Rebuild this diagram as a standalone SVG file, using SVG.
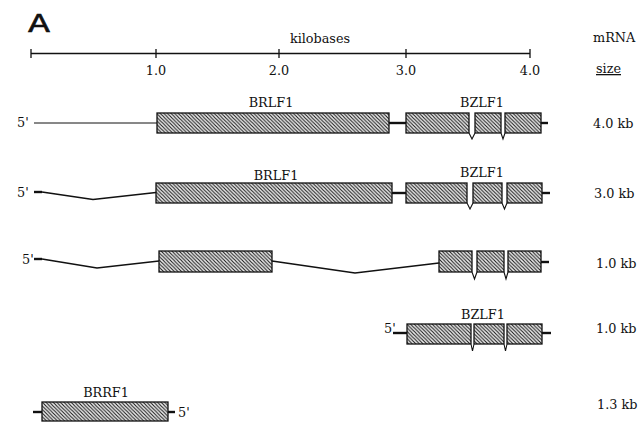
<svg xmlns="http://www.w3.org/2000/svg" width="639" height="423" viewBox="0 0 639 423">
<defs>
<pattern id="hatch" patternUnits="userSpaceOnUse" width="3.6" height="3.6">
<rect width="3.6" height="3.6" fill="#eeeeee"/>
<path d="M-1,-1 L4.6,4.6 M-1,2.6 L1,4.6 M2.6,-1 L4.6,1" stroke="#1a1a1a" stroke-width="1.1"/>
</pattern>
</defs>
<style>
text{font-family:"DejaVu Serif","Liberation Serif",serif;font-size:12.8px;fill:#111}
.ex{fill:url(#hatch);stroke:#111;stroke-width:1.3}
.thin{stroke:#111;stroke-width:1;fill:none}
.intr{stroke:#111;stroke-width:1.6;fill:none}
.thick{stroke:#111;stroke-width:2.4;fill:none}
.notch{stroke:#111;stroke-width:1.1;fill:#fff}
.mid{text-anchor:middle}
</style>
<rect width="639" height="423" fill="#fff"/>
<g id="title">
<text x="28" y="32" style="font-family:'DejaVu Sans','Liberation Sans',sans-serif;font-size:24px;stroke:#111;stroke-width:0.6" textLength="22" lengthAdjust="spacingAndGlyphs">A</text>
</g>
<g id="axis">
<line x1="31" y1="53.5" x2="530" y2="53.5" stroke="#111" stroke-width="1.5"/>
<path d="M31,49V58 M156,49V58 M279,49V58 M406,49V58 M530,49V58" stroke="#111" stroke-width="1.3"/>
<text x="320" y="43" class="mid">kilobases</text>
<text x="156" y="75" class="mid">1.0</text>
<text x="279" y="75" class="mid">2.0</text>
<text x="406" y="75" class="mid">3.0</text>
<text x="530" y="75" class="mid">4.0</text>
<text x="593" y="42">mRNA</text>
<text x="596" y="73" text-decoration="underline">size</text>
</g>
<g id="connectors">
<line class="thin" x1="34" y1="123" x2="157" y2="123"/>
<line class="thick" x1="389" y1="123" x2="406" y2="123"/>
<line class="thick" x1="541" y1="123" x2="548" y2="123"/>
<line class="thick" x1="34" y1="192" x2="42" y2="192"/>
<polyline class="intr" points="42,192 93,199.5 156,192.5"/>
<line class="thick" x1="392" y1="193" x2="406" y2="193"/>
<line class="thick" x1="542" y1="193" x2="550" y2="193"/>
<line class="thick" x1="34" y1="259" x2="42" y2="259"/>
<polyline class="intr" points="42,259 97,268 159,261"/>
<polyline class="intr" points="272,261 355,273 439,263"/>
<line class="thick" x1="541" y1="262" x2="549" y2="262"/>
<line class="thick" x1="393" y1="333" x2="407" y2="333"/>
<line class="thick" x1="542" y1="333" x2="551" y2="333"/>
<line class="thick" x1="33" y1="412" x2="42" y2="412"/>
<line class="thick" x1="168" y1="412" x2="175" y2="412"/>
</g>
<g id="row1">
<text x="17" y="127">5'</text>
<rect class="ex" x="157" y="113" width="232" height="20"/>
<text x="271" y="107" class="mid">BRLF1</text>
<rect class="ex" x="406" y="113" width="63" height="20"/>
<rect class="ex" x="475" y="113" width="26" height="20"/>
<rect class="ex" x="505" y="113" width="36" height="20"/>
<path class="notch" d="M469,133 L472,139 L475,133 M501,133 L503,139 L505,133"/>
<text x="482" y="107" class="mid">BZLF1</text>
<text x="593" y="128">4.0 kb</text>
</g>
<g id="row2">
<text x="17" y="197">5'</text>
<rect class="ex" x="156" y="183" width="236" height="20"/>
<text x="276" y="180" class="mid">BRLF1</text>
<rect class="ex" x="406" y="183" width="61" height="20"/>
<rect class="ex" x="473" y="183" width="29" height="20"/>
<rect class="ex" x="507" y="183" width="35" height="20"/>
<path class="notch" d="M467,203 L470,209 L473,203 M502,203 L504.5,209 L507,203"/>
<text x="482" y="177" class="mid">BZLF1</text>
<text x="594" y="198">3.0 kb</text>
</g>
<g id="row3">
<text x="22" y="264">5'</text>
<rect class="ex" x="159" y="251" width="113" height="21"/>
<rect class="ex" x="439" y="251" width="33" height="21"/>
<rect class="ex" x="477" y="251" width="27" height="21"/>
<rect class="ex" x="508" y="251" width="33" height="21"/>
<path class="notch" d="M472,272 L474.5,279 L477,272 M504,272 L506,279 L508,272"/>
<text x="596" y="268">1.0 kb</text>
</g>
<g id="row4">
<text x="384" y="333">5'</text>
<rect class="ex" x="407" y="324" width="64" height="20"/>
<rect class="ex" x="474" y="324" width="30" height="20"/>
<rect class="ex" x="507" y="324" width="35" height="20"/>
<path class="notch" d="M471,344 L472.5,351 L474,344 M504,344 L505.5,351 L507,344"/>
<text x="483" y="319" class="mid">BZLF1</text>
<text x="596" y="333">1.0 kb</text>
</g>
<g id="row5">
<rect class="ex" x="42" y="402" width="126" height="19"/>
<text x="106" y="397" class="mid">BRRF1</text>
<text x="178" y="417">5'</text>
<text x="597" y="409">1.3 kb</text>
</g>
</svg>
